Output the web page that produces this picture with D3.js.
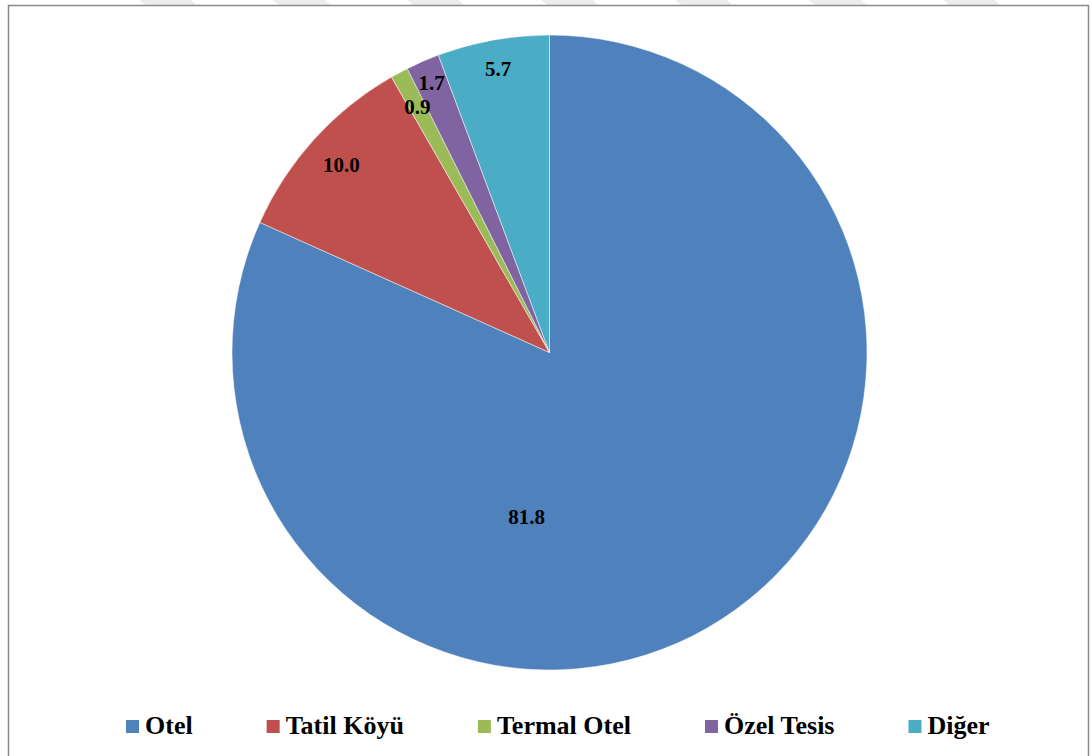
<!DOCTYPE html>
<html>
<head>
<meta charset="utf-8">
<script src="https://cdn.jsdelivr.net/npm/d3@7"></script>
<style>
  html, body { margin: 0; padding: 0; background: #fff; }
  svg { display: block; }
  .t { font-family: "Liberation Serif", "Tinos", "Times New Roman", Times, "DejaVu Serif", serif; font-weight: 700; }
</style>
</head>
<body>
<svg id="chart" width="1092" height="756"></svg>
<script>
// ---- data ----
const categories = ["Otel", "Tatil Köyü", "Termal Otel", "Özel Tesis", "Diğer"];
const values = [81.8, 10.0, 0.9, 1.7, 5.7];
const valueLabels = ["81.8", "10.0", "0.9", "1.7", "5.7"];
const colors = ["#4F81BD", "#C0504D", "#9BBB59", "#8064A2", "#4BACC6"];

// ---- layout ----
const W = 1092, H = 756;
const cx = 549.5, cy = 352.5, R = 317.5;
const labelRadiusFrac = [0.52, 0.885, 0.88, 0.93, 0.91];
const labelAngleOverride = [188 * Math.PI / 180, null, null, null, null];

const svg = d3.select("#chart");

// faint watermark stripes above the frame
const stripeX = d3.range(139, 1000, 134);
svg.append("g").selectAll("polygon").data(stripeX).join("polygon")
  .attr("points", x => `${x},0 ${x + 52},0 ${x + 58},6 ${x + 8},6`)
  .attr("fill", "#ececec");

// chart frame
svg.append("rect")
  .attr("x", 8.5).attr("y", 5.5)
  .attr("width", 1080).attr("height", 760)
  .attr("fill", "#fff")
  .attr("stroke", "#8a8a8a").attr("stroke-width", 1.5);

const data = categories.map((c, i) => ({ name: c, value: values[i], label: valueLabels[i], color: colors[i], i }));

const pie = d3.pie().value(d => d.value).sort(null);
const arcs = pie(data);
const arc = d3.arc().innerRadius(0).outerRadius(R);

const g = svg.append("g").attr("transform", `translate(${cx},${cy})`);
g.selectAll("path").data(arcs).join("path")
  .attr("d", arc)
  .attr("fill", d => d.data.color)
  .attr("stroke", "#ffffff")
  .attr("stroke-width", 0.6)
  .attr("stroke-opacity", 0.8);

g.selectAll("text.lbl").data(arcs).join("text")
  .attr("class", "lbl t")
  .attr("text-anchor", "middle")
  .attr("dominant-baseline", "central")
  .attr("font-size", 21)
  .attr("fill", "#000")
  .attr("x", d => {
    const i = d.data.i;
    const a = labelAngleOverride[i] != null ? labelAngleOverride[i] : (d.startAngle + d.endAngle) / 2;
    return Math.sin(a) * R * labelRadiusFrac[i];
  })
  .attr("y", d => {
    const i = d.data.i;
    const a = labelAngleOverride[i] != null ? labelAngleOverride[i] : (d.startAngle + d.endAngle) / 2;
    return -Math.cos(a) * R * labelRadiusFrac[i] + 1;
  })
  .text(d => d.data.label);

// legend
const legend = svg.append("g");
const sw = 13, gapText = 6, gapItem = 74, legendY = 720;
let x = 126;
data.forEach(d => {
  const item = legend.append("g").attr("transform", `translate(${x},${legendY})`);
  item.append("rect").attr("x", 0).attr("y", 0).attr("width", sw).attr("height", sw).attr("fill", d.color);
  const t = item.append("text")
    .attr("class", "t")
    .attr("x", sw + gapText).attr("y", sw + 1)
    .attr("font-size", 26).attr("fill", "#000")
    .text(d.name);
  x += sw + gapText + t.node().getComputedTextLength() + gapItem;
});
</script>
</body>
</html>
